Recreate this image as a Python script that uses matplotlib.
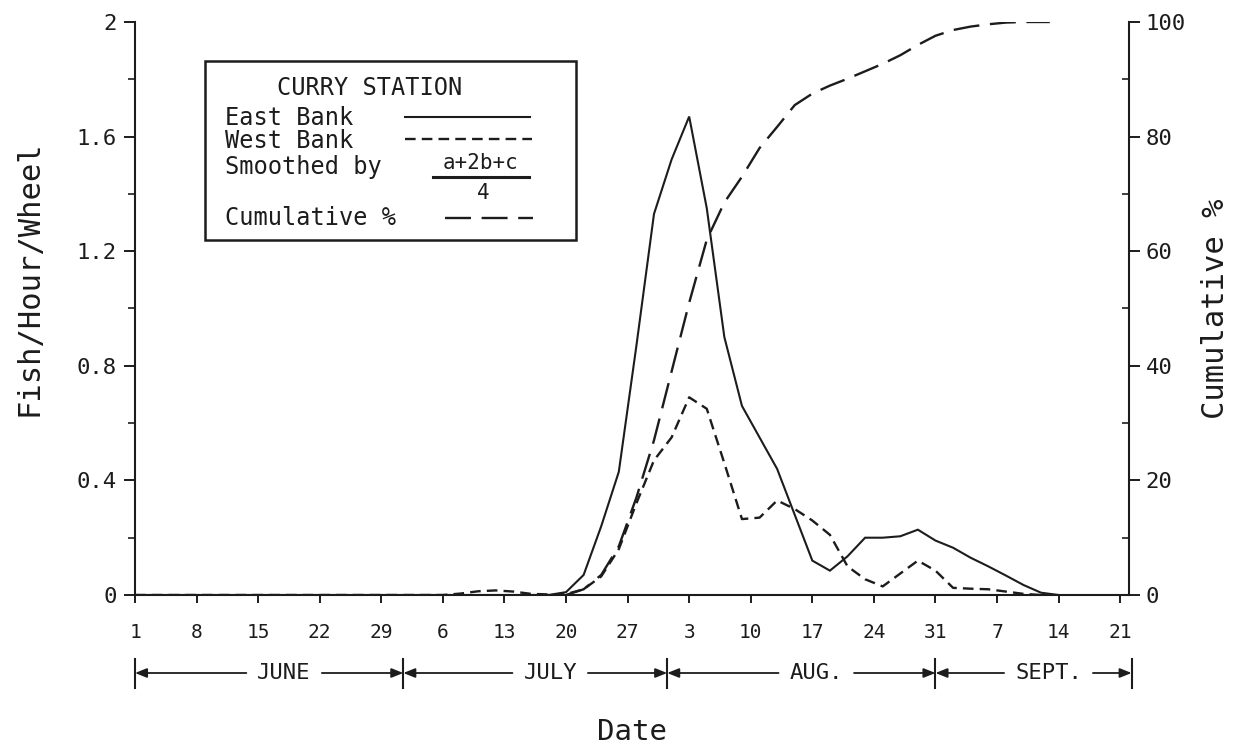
import matplotlib
matplotlib.use("Agg")
import matplotlib.pyplot as plt
import matplotlib.transforms as mtransforms
from matplotlib.patches import Rectangle
from matplotlib.ticker import MultipleLocator, FixedLocator

plt.rcParams['font.family'] = ['DejaVu Sans Mono', 'DejaVu Sans']

INK = '#1c1c1c'

# ---- data (x = days since 1 June) ----
east_days = [0, 47, 49, 51, 53, 55, 57, 59, 61, 63, 65, 67, 69, 71, 73, 75, 77,
             79, 81, 83, 85, 87, 89, 91, 93, 95, 97, 99, 101, 103, 105]
east_rate = [0, 0, 0.01, 0.07, 0.24, 0.43, 0.87, 1.33, 1.52, 1.67, 1.35, 0.90,
             0.66, 0.55, 0.44, 0.28, 0.12, 0.085, 0.135, 0.20, 0.20, 0.205,
             0.228, 0.19, 0.165, 0.13, 0.10, 0.068, 0.035, 0.008, 0]

west_days = [0, 35, 37, 39, 41, 43, 45, 47, 49, 51, 53, 55, 57, 59, 61, 63, 65,
             67, 69, 71, 73, 75, 77, 79, 81, 83, 85, 87, 89, 91, 93, 95, 97,
             99, 101, 103]
west_rate = [0, 0, 0.005, 0.013, 0.016, 0.012, 0.004, 0.002, 0.003, 0.02,
             0.065, 0.16, 0.32, 0.47, 0.55, 0.69, 0.65, 0.46, 0.265, 0.27,
             0.33, 0.30, 0.26, 0.21, 0.10, 0.055, 0.03, 0.075, 0.12, 0.085,
             0.025, 0.022, 0.02, 0.012, 0.004, 0]

cum_days = [49, 51, 53, 55, 57, 59, 61, 63, 65, 67, 69, 71, 73, 75, 77, 79, 81,
            83, 85, 87, 89, 91, 93, 95, 97, 99, 101, 104]
cum_pct = [0, 1, 3.5, 8.5, 17, 27, 39, 51, 62, 68.5, 73, 78, 81.7, 85.5, 87.5,
           88.9, 90.1, 91.4, 92.7, 94.2, 96.0, 97.6, 98.6, 99.2, 99.6, 99.9,
           100, 100]

tick_days = list(range(0, 113, 7))
tick_labels = ['1', '8', '15', '22', '29', '6', '13', '20', '27',
               '3', '10', '17', '24', '31', '7', '14', '21']

month_names = ['JUNE', 'JULY', 'AUG.', 'SEPT.']
month_edges = [0, 30.5, 60.5, 91, 113.3]

# ---- figure ----
W, H = 1237, 745
fig = plt.figure(figsize=(W / 100, H / 100), dpi=100)
ax = fig.add_axes([135 / W, 1 - 595 / H, (1129 - 135) / W, (595 - 22) / H])
ax2 = ax.twinx()

ax.set_xlim(0, 113)
ax.set_ylim(0, 2)
ax2.set_ylim(0, 100)

ax.plot(east_days, east_rate, color=INK, lw=1.5, solid_joinstyle='miter')
ax.plot(west_days, west_rate, color=INK, lw=1.7, linestyle=(0, (4.5, 2.6)))
ax2.plot(cum_days, cum_pct, color=INK, lw=1.7, linestyle=(0, (11, 4.5)))

# spines
for a in (ax, ax2):
    a.spines['top'].set_visible(False)
    for s in a.spines.values():
        s.set_linewidth(1.5)
        s.set_color(INK)
ax.spines['right'].set_visible(False)
ax2.spines['left'].set_visible(False)
ax2.spines['bottom'].set_visible(False)

# x axis
ax.xaxis.set_major_locator(FixedLocator(tick_days))
ax.set_xticklabels(tick_labels)
ax.tick_params(axis='x', direction='out', length=6, width=1.4, color=INK,
               labelsize=14, pad=14, labelcolor=INK)

# left axis
ax.set_yticks([0, 0.4, 0.8, 1.2, 1.6, 2.0])
ax.set_yticklabels(['0', '0.4', '0.8', '1.2', '1.6', '2'])
ax.yaxis.set_minor_locator(MultipleLocator(0.2))
ax.tick_params(axis='y', which='major', direction='out', length=8, width=1.4,
               color=INK, labelsize=16, pad=5, labelcolor=INK)
ax.tick_params(axis='y', which='minor', direction='out', length=5, width=1.2,
               color=INK)

# right axis
ax2.set_yticks([0, 20, 40, 60, 80, 100])
ax2.set_yticklabels(['0', '20', '40', '60', '80', '100'])
ax2.yaxis.set_minor_locator(MultipleLocator(10))
ax2.tick_params(axis='y', which='major', direction='out', length=8, width=1.4,
                color=INK, labelsize=16, pad=4, labelcolor=INK)
ax2.tick_params(axis='y', which='minor', direction='in', length=5, width=1.2,
                color=INK)

ax.set_ylabel('Fish/Hour/Wheel', fontsize=22, color=INK)
ax.yaxis.set_label_coords(-0.092, 0.553)
ax2.set_ylabel('Cumulative %', fontsize=22, color=INK, rotation=90)
ax2.yaxis.set_label_coords(1.072, 0.5)

fig.text(632 / W, 1 - 732 / H, 'Date', fontsize=21, color=INK,
         ha='center', va='center')

# ---- legend box ----
def ax_x(px):
    return (px - 135) / (1129 - 135)


def ax_y(py):
    return (595 - py) / (595 - 22)


ax.add_patch(Rectangle((ax_x(205), ax_y(240)), ax_x(576) - ax_x(205),
                       ax_y(61) - ax_y(240), transform=ax.transAxes,
                       fill=False, lw=1.8, edgecolor=INK, clip_on=False))
ax.text(ax_x(370), ax_y(88), 'CURRY STATION', transform=ax.transAxes,
        ha='center', va='center', fontsize=17, color=INK)
ax.text(ax_x(225), ax_y(118), 'East Bank', transform=ax.transAxes,
        ha='left', va='center', fontsize=17, color=INK)
ax.plot([ax_x(405), ax_x(530)], [ax_y(117)] * 2, transform=ax.transAxes,
        color=INK, lw=1.5, clip_on=False)
ax.text(ax_x(225), ax_y(141), 'West Bank', transform=ax.transAxes,
        ha='left', va='center', fontsize=17, color=INK)
ax.plot([ax_x(405), ax_x(532)], [ax_y(139)] * 2, transform=ax.transAxes,
        color=INK, lw=1.7, linestyle=(0, (4.5, 2.6)), clip_on=False)
ax.text(ax_x(225), ax_y(167), 'Smoothed by', transform=ax.transAxes,
        ha='left', va='center', fontsize=17, color=INK)
ax.text(ax_x(481), ax_y(163), 'a+2b+c', transform=ax.transAxes,
        ha='center', va='center', fontsize=15, color=INK)
ax.plot([ax_x(433), ax_x(529)], [ax_y(177)] * 2, transform=ax.transAxes,
        color=INK, lw=2.2, clip_on=False)
ax.text(ax_x(483), ax_y(193), '4', transform=ax.transAxes,
        ha='center', va='center', fontsize=15, color=INK)
ax.text(ax_x(225), ax_y(218), 'Cumulative %', transform=ax.transAxes,
        ha='left', va='center', fontsize=17, color=INK)
ax.plot([ax_x(445), ax_x(533)], [ax_y(218)] * 2, transform=ax.transAxes,
        color=INK, lw=1.7, linestyle=(0, (11, 4.5)), clip_on=False)

# ---- month bar under the date axis ----
trans = mtransforms.blended_transform_factory(ax.transData, fig.transFigure)
y_bar = 1 - 673 / H
for e in month_edges:
    ax.plot([e, e], [1 - 659 / H, 1 - 688 / H], transform=trans,
            color=INK, lw=1.5, clip_on=False)

fig.canvas.draw()
renderer = fig.canvas.get_renderer()
inv = ax.transData.inverted()
gap = 11
for name, x0, x1 in zip(month_names, month_edges[:-1], month_edges[1:]):
    xc = (x0 + x1) / 2 + 1.7
    t = ax.text(xc, y_bar, name, transform=trans, ha='center', va='center',
                fontsize=16, color=INK, clip_on=False)
    bb = t.get_window_extent(renderer)
    xl = inv.transform((bb.x0 - gap, 0))[0]
    xr = inv.transform((bb.x1 + gap, 0))[0]
    for start, end in ((xl, x0), (xr, x1)):
        ax.annotate('', xy=(end, y_bar), xytext=(start, y_bar),
                    xycoords=trans, textcoords=trans,
                    arrowprops=dict(arrowstyle='-|>,head_length=0.5,head_width=0.2',
                                    color=INK, lw=1.3, shrinkA=0, shrinkB=0,
                                    mutation_scale=14),
                    annotation_clip=False)

fig.savefig('out.png', dpi=100, facecolor='white')
